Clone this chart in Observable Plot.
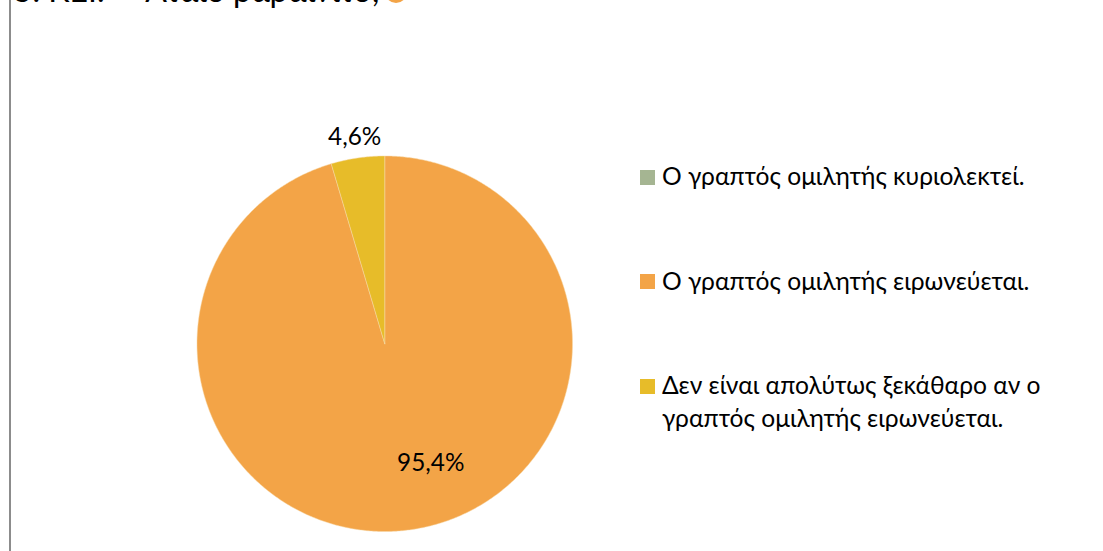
<!DOCTYPE html>
<html><head><meta charset="utf-8">
<script src="https://cdn.jsdelivr.net/npm/d3@7"></script>
<script src="https://cdn.jsdelivr.net/npm/@observablehq/plot@0.6"></script>
<style>
html,body{margin:0;padding:0;background:#fff;overflow:hidden}
#chart{position:relative;width:1103px;height:551px;overflow:hidden;font-family:Lato,"Noto Sans",sans-serif;color:#000}
#chart svg{position:absolute;left:0;top:0}
#title{position:absolute;left:14px;top:-26px;font-size:32px;white-space:nowrap;line-height:32px}
.lg{position:absolute;left:662px;font-size:24.6px;line-height:33px;white-space:nowrap}
.sw{position:absolute;left:640px;width:15px;height:15px}
#blob{position:absolute;left:385px;top:-19px;width:22px;height:22px;border-radius:50%;background:#F3A447}
</style></head><body><div id="chart"></div>
<script>
const categories = ["Ο γραπτός ομιλητής κυριολεκτεί.", "Ο γραπτός ομιλητής ειρωνεύεται.", "Δεν είναι απολύτως ξεκάθαρο αν ο γραπτός ομιλητής ειρωνεύεται."];
const percents = [0, 95.4, 4.6];
const colors = ["#A5B592", "#F3A447", "#E7BC29"];
const labels = ["", "95,4%", "4,6%"];
const titleText = "5. ΚΕΙ. — Ατάιο βαραίνιτό;";

const rows = [];
const mids = [];
let acc = 0;
const total = d3.sum(percents);
percents.forEach((p, i) => {
  if (p <= 0) return;
  const a0 = acc / total * 2 * Math.PI, a1 = (acc + p) / total * 2 * Math.PI;
  rows.push({k: i, x: 0, y: 0});
  const n = Math.ceil((a1 - a0) / (Math.PI / 360));
  for (let j = 0; j <= n; j++) {
    const a = a0 + (a1 - a0) * j / n;
    rows.push({k: i, x: Math.sin(a), y: Math.cos(a)});
  }
  rows.push({k: i, x: 0, y: 0});
  const m = (a0 + a1) / 2;
  mids.push({k: i, x: Math.sin(m), y: Math.cos(m), label: labels[i]});
  acc += p;
});

const plot = Plot.plot({
  width: 1103, height: 551, margin: 0,
  x: {domain: [-1, 1], range: [196.5, 572], axis: null},
  y: {domain: [-1, 1], range: [531, 155.5], axis: null},
  color: {domain: d3.range(categories.length), range: colors},
  marks: [
    Plot.line(rows, {x: "x", y: "y", z: "k", fill: d => colors[d.k], stroke: "#f7d9a8", strokeWidth: 0.5, curve: "linear"}),
    Plot.text(mids.filter(d => d.k === 1), {x: d => 0.72 * d.x, y: d => 0.72 * d.y, text: "label", dx: 26.5, dy: -14, fontSize: 24.3, fontFamily: "Lato, 'Noto Sans', sans-serif", fill: "#000"}),
    Plot.text(mids.filter(d => d.k === 2), {x: "x", y: "y", text: "label", dx: -3, dy: -21, fontSize: 24.3, fontFamily: "Lato, 'Noto Sans', sans-serif", fill: "#000"})
  ]
});
const chart = document.getElementById("chart");
chart.appendChild(plot);

const border = document.createElement("div");
border.style.cssText = "position:absolute;left:9px;top:0;width:2px;height:551px;background:#8c8c8c";
chart.appendChild(border);

const t = document.createElement("div");
t.id = "title"; t.textContent = titleText;
chart.appendChild(t);
const b = document.createElement("div");
b.id = "blob";
chart.appendChild(b);

const legendTops = [159, 264, 368];
const swatchTops = [170, 274, 379];
categories.forEach((c, i) => {
  const s = document.createElement("div");
  s.className = "sw"; s.style.top = swatchTops[i] + "px"; s.style.background = colors[i];
  chart.appendChild(s);
  const l = document.createElement("div");
  l.className = "lg"; l.style.top = legendTops[i] + "px";
  l.innerHTML = i === 2 ? "Δεν είναι απολύτως ξεκάθαρο αν ο<br>γραπτός ομιλητής ειρωνεύεται." : c;
  chart.appendChild(l);
});
</script></body></html>
